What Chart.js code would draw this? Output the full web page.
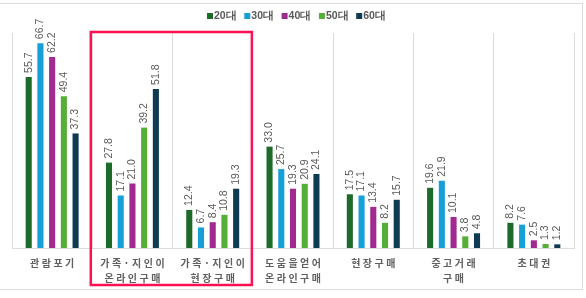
<!DOCTYPE html>
<html>
<head>
<meta charset="utf-8">
<script src="https://cdn.jsdelivr.net/npm/chart.js@4/dist/chart.umd.min.js"></script>
<style>
  html, body { margin: 0; padding: 0; background: #fff; }
  #wrap { position: relative; width: 586px; height: 298px; overflow: hidden; }
  #frame {
    position: absolute; left: -1px; top: 3px; width: 584px; height: 287px;
    border: 1px solid #dcdcdc; box-sizing: border-box;
  }
  canvas { position: absolute; left: 0; top: 0; }
</style>
</head>
<body>
<div id="wrap">
  <div id="frame"></div>
  <canvas id="chart" width="586" height="298"></canvas>
</div>
<script>
  const categories = [
    ["관람포기"],
    ["가족·지인이", "온라인구매"],
    ["가족·지인이", "현장구매"],
    ["도움을얻어", "온라인구매"],
    ["현장구매"],
    ["중고거래", "구매"],
    ["초대권"],
  ];
  const seriesNames = ["20대", "30대", "40대", "50대", "60대"];
  const seriesColors = ["#1d6b2a", "#17a0d8", "#a02a90", "#55ae38", "#0f3b52"];

  const age20 = [55.7, 27.8, 12.4, 33.0, 17.5, 19.6, 8.2];
  const age30 = [66.7, 17.1, 6.7, 25.7, 17.1, 21.9, 7.6];
  const age40 = [62.2, 21.0, 8.4, 19.3, 13.4, 10.1, 2.5];
  const age50 = [49.4, 39.2, 10.8, 20.9, 8.2, 3.8, 1.3];
  const age60 = [37.3, 51.8, 19.3, 24.1, 15.7, 4.8, 1.2];
  const seriesValues = [age20, age30, age40, age50, age60];

  const labelColor = "#595959";

  // value labels rotated -90 above each bar
  const valueLabels = {
    id: "valueLabels",
    afterDatasetsDraw(chart) {
      const ctx = chart.ctx;
      ctx.save();
      ctx.font = "10.5px 'Liberation Sans', Arial, sans-serif";
      ctx.fillStyle = labelColor;
      ctx.textAlign = "left";
      ctx.textBaseline = "middle";
      chart.data.datasets.forEach((ds, i) => {
        chart.getDatasetMeta(i).data.forEach((bar, j) => {
          ctx.save();
          ctx.translate(bar.x, bar.y - 4);
          ctx.rotate(-Math.PI / 2);
          ctx.fillText(ds.data[j].toFixed(1), 0, 0);
          ctx.restore();
        });
      });
      ctx.restore();
    },
  };

  // category labels with letter spacing, red highlight box, legend
  const extras = {
    id: "extras",
    afterDraw(chart) {
      const ctx = chart.ctx;
      const x = chart.scales.x;
      const area = chart.chartArea;
      const half = (area.right - area.left) / categories.length / 2;
      const spacing = 2.5;

      ctx.save();
      ctx.font = "bold 10px 'Noto Sans CJK KR', sans-serif";
      ctx.fillStyle = "#606060";
      ctx.textAlign = "center";
      ctx.textBaseline = "middle";
      ctx.letterSpacing = spacing + "px";
      categories.forEach((lines, i) => {
        const cx = x.getPixelForValue(i) + spacing / 2;
        lines.forEach((line, k) => {
          ctx.fillText(line, cx, area.bottom + 15 + k * 15);
        });
      });
      ctx.letterSpacing = "0px";

      // highlight box around categories 1 and 2
      const left = x.getPixelForValue(1) - half - 1.5;
      const right = x.getPixelForValue(2) + half - 1;
      ctx.strokeStyle = "#ff1050";
      ctx.lineWidth = 2.5;
      ctx.strokeRect(left, area.top - 1, right - left, area.bottom - area.top + 38);

      // legend
      ctx.font = "bold 10.5px 'Liberation Sans', Arial, sans-serif";
      ctx.textAlign = "left";
      const ly = 16;
      seriesNames.forEach((name, i) => {
        const lx = 207 + i * 37.3;
        ctx.fillStyle = seriesColors[i];
        ctx.fillRect(lx, ly - 3, 6, 6);
        ctx.fillStyle = labelColor;
        ctx.fillText(name, lx + 7, ly + 0.5);
      });
      ctx.restore();
    },
  };

  new Chart(document.getElementById("chart"), {
    type: "bar",
    data: {
      labels: categories,
      datasets: seriesNames.map((name, i) => ({
        label: name,
        data: seriesValues[i],
        backgroundColor: seriesColors[i],
        categoryPercentage: 0.73,
        barPercentage: 0.52,
      })),
    },
    options: {
      responsive: false,
      animation: false,
      layout: { padding: { top: 33, left: 12, right: 12, bottom: 50 } },
      plugins: {
        legend: { display: false },
        tooltip: { enabled: false },
      },
      scales: {
        x: {
          ticks: { display: false },
          grid: { color: "#dcdcdc", drawTicks: false, offset: true },
          border: { color: "#dcdcdc" },
        },
        y: {
          display: false,
          min: 0,
          max: 70,
        },
      },
    },
    plugins: [valueLabels, extras],
  });
</script>
</body>
</html>
